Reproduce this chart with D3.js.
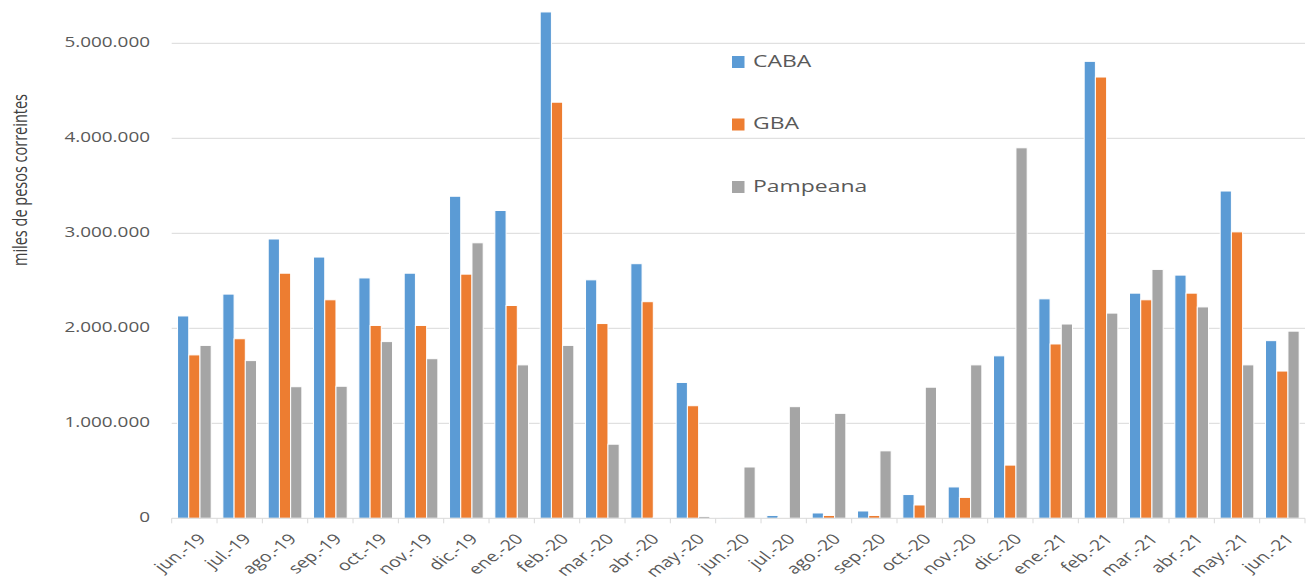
<!DOCTYPE html>
<html>
<head>
<meta charset="utf-8">
<script src="https://cdn.jsdelivr.net/npm/d3@7"></script>
<style>
  body { margin: 0; background: #fff; }
  text { font-family: "Open Sans", sans-serif; fill: #595959; }
</style>
</head>
<body>
<div id="chart"></div>
<script>
// Data (pesos, thousands)
const months = ["jun.-19", "jul.-19", "ago.-19", "sep.-19", "oct.-19", "nov.-19", "dic.-19",
  "ene.-20", "feb.-20", "mar.-20", "abr.-20", "may.-20", "jun.-20", "jul.-20", "ago.-20",
  "sep.-20", "oct.-20", "nov.-20", "dic.-20", "ene.-21", "feb.-21", "mar.-21", "abr.-21",
  "may.-21", "jun.-21"];
const caba = [2130000, 2360000, 2940000, 2750000, 2530000, 2580000, 3390000, 3240000, 5330000,
  2510000, 2680000, 1430000, 8000, 30000, 56000, 77000, 250000, 330000, 1710000, 2310000,
  4810000, 2370000, 2560000, 3445000, 1870000];
const gba = [1720000, 1890000, 2580000, 2300000, 2030000, 2030000, 2570000, 2240000, 4380000,
  2050000, 2280000, 1185000, 8000, 10000, 30000, 30000, 140000, 220000, 560000, 1835000,
  4645000, 2300000, 2370000, 3015000, 1550000];
const pampeana = [1820000, 1660000, 1385000, 1390000, 1860000, 1680000, 2900000, 1615000, 1820000,
  780000, 10000, 20000, 540000, 1175000, 1105000, 710000, 1380000, 1615000, 3900000, 2045000,
  2160000, 2620000, 2225000, 1615000, 1970000];
const seriesNames = ["CABA", "GBA", "Pampeana"];
const colors = ["#5B9BD5", "#ED7D31", "#A5A5A5"];
const yTicks = [0, 1000000, 2000000, 3000000, 4000000, 5000000];

const seriesValues = [caba, gba, pampeana];
const width = 1313, height = 581;
const stretch = 1.35; // text in the picture is wide

const svg = d3.select("#chart").append("svg")
  .attr("width", width)
  .attr("height", height);

const x = d3.scaleBand().domain(months).range([171.7, 1305]).paddingInner(0).paddingOuter(0);
const x1 = d3.scaleBand().domain(seriesNames).range([0, x.bandwidth()]).paddingInner(0).paddingOuter(0.52);
const y = d3.scaleLinear().domain([0, 5000000]).range([518.3, 43.3]);

const fmt = d3.formatLocale({ decimal: ",", thousands: ".", grouping: [3], currency: ["$", ""] }).format(",d");

// gridlines
svg.append("g")
  .selectAll("line")
  .data(yTicks.slice(1))
  .join("line")
    .attr("x1", x.range()[0])
    .attr("x2", x.range()[1])
    .attr("y1", d => y(d))
    .attr("y2", d => y(d))
    .attr("stroke", "#D9D9D9")
    .attr("stroke-width", 1);

// y labels
svg.append("g")
  .selectAll("text")
  .data(yTicks)
  .join("text")
    .attr("transform", d => `translate(150,${y(d)}) scale(${stretch},1)`)
    .attr("text-anchor", "end")
    .attr("dominant-baseline", "middle")
    .style("font-size", "14px")
    .text(d => fmt(d));

// y title
svg.append("text")
  .attr("transform", `translate(27,180) scale(${stretch},1) rotate(-90)`)
  .attr("text-anchor", "middle")
  .style("font-size", "14.5px")
  .style("fill", "#404040")
  .text("miles de pesos correintes");

// bars
const groups = svg.append("g")
  .selectAll("g")
  .data(seriesNames)
  .join("g")
    .attr("fill", (d, i) => colors[i]);

groups.selectAll("rect")
  .data((s, i) => seriesValues[i].map((v, j) => ({ s, v, m: months[j] })))
  .join("rect")
    .attr("x", d => x(d.m) + x1(d.s))
    .attr("width", x1.bandwidth())
    .attr("y", d => y(d.v))
    .attr("height", d => y(0) - y(d.v))
    .attr("stroke", "#fff")
    .attr("stroke-width", 1);

// x axis
const xAxis = svg.append("g").attr("transform", `translate(0,${y(0)})`);
xAxis.append("line")
  .attr("x1", x.range()[0]).attr("x2", x.range()[1])
  .attr("stroke", "#D9D9D9");
xAxis.selectAll(".tick")
  .data(months.concat(["end"]))
  .join("line")
    .attr("x1", (d, i) => x.range()[0] + i * x.step())
    .attr("x2", (d, i) => x.range()[0] + i * x.step())
    .attr("y1", 0).attr("y2", 5)
    .attr("stroke", "#D9D9D9");
xAxis.selectAll("text")
  .data(months)
  .join("text")
    .attr("transform", d => `translate(${x(d) + x.bandwidth() / 2 + 1},13) scale(${stretch},1) rotate(-45)`)
    .attr("text-anchor", "end")
    .attr("dominant-baseline", "hanging")
    .style("font-size", "14.5px")
    .text(d => d);

// legend
const legend = svg.append("g")
  .selectAll("g")
  .data(seriesNames)
  .join("g")
    .attr("transform", (d, i) => `translate(732,${62 + i * 62.5})`);
legend.append("rect")
  .attr("x", 0).attr("y", -6)
  .attr("width", 12.5).attr("height", 12)
  .attr("fill", (d, i) => colors[i]);
legend.append("text")
  .attr("transform", `translate(21,0) scale(${stretch},1)`)
  .attr("dominant-baseline", "middle")
  .style("font-size", "17px")
  .text(d => d);
</script>
</body>
</html>
